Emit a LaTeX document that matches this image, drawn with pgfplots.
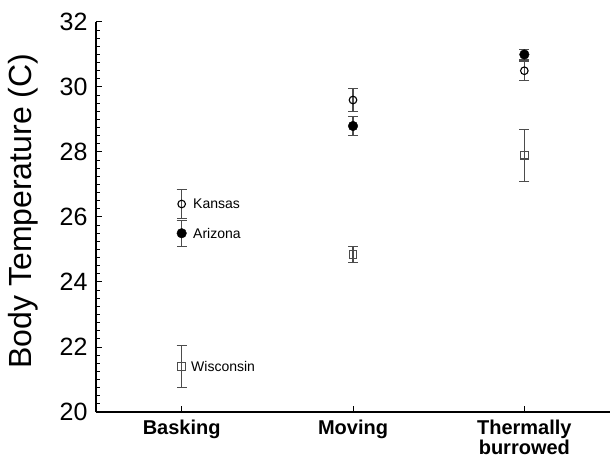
\documentclass[border=0pt]{standalone}
\usepackage{fontspec}
\setmainfont{Liberation Sans}
\usepackage{pgfplots}
\pgfplotsset{compat=1.18}
\begin{document}
\begin{tikzpicture}
\begin{axis}[
  scale only axis, width=514pt, height=390pt,
  xmin=0.5, xmax=3.5, ymin=20, ymax=32,
  axis x line*=bottom, axis y line*=left,
  axis line style={line width=2.4pt, -},
  xtick={1,2,3},
  xticklabels={Basking,Moving,{Thermally\\burrowed}},
  xticklabel style={font=\fontsize{20}{20.5}\selectfont\bfseries, align=center, anchor=north, yshift=-4pt},
  ytick={20,22,...,32},
  minor y tick num=7,
  yticklabel style={font=\fontsize{25}{28}\selectfont, xshift=-5pt},
  /pgf/number format/assume math mode=true,
  tick align=inside,
  major tick length=6pt, minor tick length=4pt,
  tick style={line width=1pt, black},
  ylabel={Body Temperature (C)},
  every axis y label/.style={at={(axis description cs:-0.142,0.515)}, rotate=90, anchor=center, font=\fontsize{32}{34}\selectfont},
  clip=false,
]
% Kansas (open circles)
\addplot[only marks, black, mark=o, mark size=3.8pt, mark options={fill=white, line width=1.1pt},
  error bars/.cd, y dir=both, y explicit,
  error bar style={line width=1.4pt, black!70},
  error mark options={rotate=90, mark size=5pt, line width=1.4pt, black!70}]
  coordinates {(1,26.4) +- (0,0.45) (2,29.6) +- (0,0.35) (3,30.5) +- (0,0.3)};
% Arizona (filled circles)
\addplot[only marks, black, mark=*, mark size=4.8pt,
  error bars/.cd, y dir=both, y explicit,
  error bar style={line width=1.4pt, black!70},
  error mark options={rotate=90, mark size=5pt, line width=1.4pt, black!70}]
  coordinates {(1,25.5) +- (0,0.4) (2,28.8) +- (0,0.3) (3,31.0) +- (0,0.15)};
% Wisconsin (open squares)
\addplot[only marks, black!70, mark=square, mark size=3.8pt, mark options={fill=white, line width=1.1pt},
  error bars/.cd, y dir=both, y explicit,
  error bar style={line width=1.4pt, black!70},
  error mark options={rotate=90, mark size=5pt, line width=1.4pt, black!70}]
  coordinates {(1,21.4) +- (0,0.65) (2,24.85) +- (0,0.25) (3,27.9) +- (0,0.8)};
\node[anchor=west, font=\fontsize{14}{16}\selectfont, xshift=8pt] at (axis cs:1,26.4) {Kansas};
\node[anchor=west, font=\fontsize{14}{16}\selectfont, xshift=8pt] at (axis cs:1,25.5) {Arizona};
\node[anchor=west, font=\fontsize{14}{16}\selectfont, xshift=6pt] at (axis cs:1,21.4) {Wisconsin};
\end{axis}
\pgfresetboundingbox
\path[use as bounding box] ([xshift=-96pt,yshift=-46pt]current axis.south west) rectangle ([xshift=3pt,yshift=22pt]current axis.north east);
\end{tikzpicture}
\end{document}
